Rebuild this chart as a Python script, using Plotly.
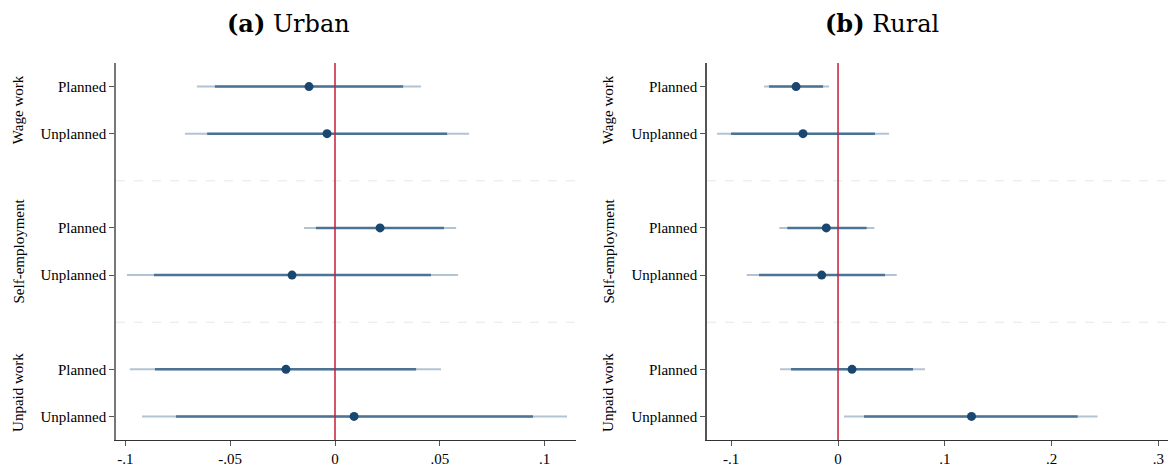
import plotly.graph_objects as go

W, H = 1169, 469

groups = ["Wage work", "Self-employment", "Unpaid work"]
rows = ["Planned", "Unplanned"]

# Urban panel (a)
urban_est = [-0.0124, -0.0038, 0.0215, -0.0205, -0.0234, 0.0091]
urban_lo95 = [-0.0659, -0.0716, -0.0148, -0.0993, -0.0979, -0.0921]
urban_hi95 = [0.0410, 0.0640, 0.0578, 0.0587, 0.0506, 0.1107]
urban_lo90 = [-0.0573, -0.0610, -0.0091, -0.0864, -0.0859, -0.0759]
urban_hi90 = [0.0325, 0.0535, 0.0520, 0.0458, 0.0387, 0.0945]

# Rural panel (b)
rural_est = [-0.0393, -0.0328, -0.0110, -0.0153, 0.0131, 0.1250]
rural_lo95 = [-0.0693, -0.1133, -0.0550, -0.0855, -0.0543, 0.0056]
rural_hi95 = [-0.0084, 0.0478, 0.0340, 0.0550, 0.0815, 0.2430]
rural_lo90 = [-0.0646, -0.1002, -0.0475, -0.0740, -0.0440, 0.0243]
rural_hi90 = [-0.0140, 0.0346, 0.0268, 0.0440, 0.0702, 0.2244]

urban_ticks = [-0.1, -0.05, 0, 0.05, 0.1]
urban_ticktext = ["-.1", "-.05", "0", ".05", ".1"]
rural_ticks = [-0.1, 0, 0.1, 0.2, 0.3]
rural_ticktext = ["-.1", "0", ".1", ".2", ".3"]

titles = ["<b>(a)</b> Urban", "<b>(b)</b> Rural"]

# y slot for each (group,row)
ypos = [g * 3 + r + 1 for g in range(len(groups)) for r in range(len(rows))]
yticktext = [rows[r] for g in range(len(groups)) for r in range(len(rows))]

OUTER = "#b3c3d2"
INNER = "#4d7394"
DOT = "#1a476f"
RED = "#c41e3a"
FONT = "Liberation Serif"

fig = go.Figure()


def seg(lo, hi):
    xs, ys = [], []
    for a, b, y in zip(lo, hi, ypos):
        xs += [a, b, None]
        ys += [y, y, None]
    return xs, ys


panels = [
    ("x", "y", urban_est, urban_lo95, urban_hi95, urban_lo90, urban_hi90),
    ("x2", "y2", rural_est, rural_lo95, rural_hi95, rural_lo90, rural_hi90),
]
for xa, ya, est, lo95, hi95, lo90, hi90 in panels:
    xs, ys = seg(lo95, hi95)
    fig.add_trace(go.Scatter(x=xs, y=ys, mode="lines", xaxis=xa, yaxis=ya,
                             line=dict(color=OUTER, width=2), showlegend=False,
                             hoverinfo="skip"))
    xs, ys = seg(lo90, hi90)
    fig.add_trace(go.Scatter(x=xs, y=ys, mode="lines", xaxis=xa, yaxis=ya,
                             line=dict(color=INNER, width=2.5), showlegend=False,
                             hoverinfo="skip"))
    fig.add_trace(go.Scatter(x=est, y=ypos, mode="markers", xaxis=xa, yaxis=ya,
                             marker=dict(color=DOT, size=9), showlegend=False))


def px_x(p):
    return p / W


plot_top, plot_bot = 63, 440
plot_h = plot_bot - plot_top

axis_common = dict(showgrid=False, zeroline=False, automargin=False,
                   ticks="outside", ticklen=5, tickcolor="#555",
                   tickfont=dict(family=FONT, size=15, color="black"))

fig.update_layout(
    width=W, height=H,
    margin=dict(l=0, r=0, t=plot_top, b=H - plot_bot),
    paper_bgcolor="white", plot_bgcolor="white",
    xaxis=dict(domain=[px_x(116), px_x(576)], range=[-0.1045, 0.115],
               tickvals=urban_ticks, ticktext=urban_ticktext,
               showline=True, linecolor="#333", linewidth=1.2,
               ticklabelstandoff=0, anchor="y", **axis_common),
    yaxis=dict(range=[8.5, 0.5], tickvals=ypos, ticktext=yticktext,
               showline=True, linecolor="#777", linewidth=1.5,
               ticklabelstandoff=0, anchor="x", **axis_common),
    xaxis2=dict(domain=[px_x(707), px_x(1168)], range=[-0.1227, 0.309],
                tickvals=rural_ticks, ticktext=rural_ticktext,
                showline=True, linecolor="#333", linewidth=1.2,
                ticklabelstandoff=0, anchor="y2", **axis_common),
    yaxis2=dict(range=[8.5, 0.5], tickvals=ypos, ticktext=yticktext,
                showline=True, linecolor="#555", linewidth=1.5,
                ticklabelstandoff=0, anchor="x2", **axis_common),
)

shapes = []
annotations = []
for xa, ya, lab_x in [("x", "y", 18), ("x2", "y2", 608)]:
    # dashed separators between groups
    for g in range(1, len(groups)):
        shapes.append(dict(type="line", xref=f"{xa} domain", yref=ya,
                           x0=0, x1=1, y0=g * 3, y1=g * 3,
                           line=dict(color="#e1e8ec", width=1, dash="dash"),
                           layer="below"))
    # zero reference line
    shapes.append(dict(type="line", xref=xa, yref=f"{ya} domain",
                       x0=0, x1=0, y0=0, y1=1,
                       line=dict(color=RED, width=1.5), layer="above"))
    for g, name in enumerate(groups):
        annotations.append(dict(text=name, textangle=-90, xref="paper", yref=ya,
                                x=px_x(lab_x), y=g * 3 + 1.5, showarrow=False,
                                xanchor="center", yanchor="middle",
                                font=dict(family=FONT, size=15, color="black")))

for t, cx in zip(titles, [288, 882]):
    annotations.append(dict(text=t, xref="paper", yref="paper",
                            x=px_x(cx), y=1 + (plot_top - 23) / plot_h,
                            showarrow=False, xanchor="center", yanchor="middle",
                            font=dict(family="DejaVu Serif", size=24, color="black")))

fig.update_layout(shapes=shapes, annotations=annotations)

fig.write_html("out.html", config={"displayModeBar": False},
               post_script="document.body.style.margin='0';document.body.style.padding='0';")
